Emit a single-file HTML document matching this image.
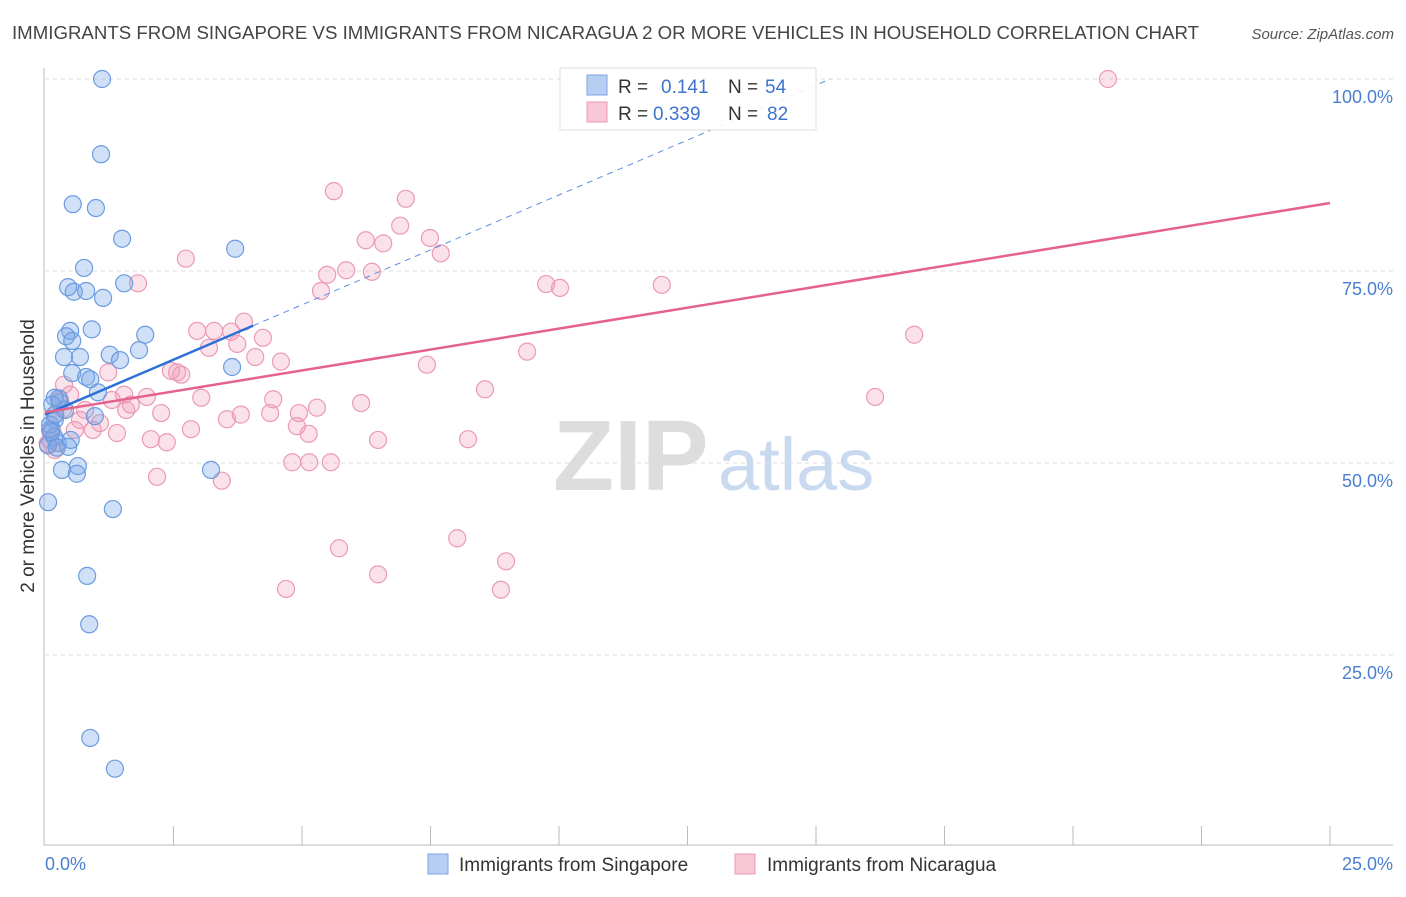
<!DOCTYPE html>
<html><head><meta charset="utf-8"><style>
body{margin:0;background:#fff;font-family:"Liberation Sans",sans-serif}
svg text{font-family:"Liberation Sans",sans-serif}
</style></head><body>
<svg id="chart" width="1406" height="892" xmlns="http://www.w3.org/2000/svg">
<text x="12" y="39" font-size="18.6" fill="#444" textLength="1187" lengthAdjust="spacingAndGlyphs">IMMIGRANTS FROM SINGAPORE VS IMMIGRANTS FROM NICARAGUA 2 OR MORE VEHICLES IN HOUSEHOLD CORRELATION CHART</text>
<text x="1394" y="39" font-size="15" fill="#555" font-style="italic" text-anchor="end">Source: ZipAtlas.com</text>
<g>
<text x="553" y="490" font-size="100" fill="#ddd" font-family="Liberation Serif" font-weight="bold">ZIP</text>
<text x="718" y="490" font-size="74" fill="#c9daf0">atlas</text>
</g>
<g id="grid"></g>
<line x1="44" y1="68" x2="44" y2="845" stroke="#bbb"/>
<line x1="44" y1="845" x2="1393" y2="845" stroke="#bbb"/>
<g id="ticks"></g>
<text transform="translate(34,456) rotate(-90)" font-size="19" fill="#333" text-anchor="middle">2 or more Vehicles in Household</text>
<text x="45" y="870" font-size="18" fill="#4a7fd0">0.0%</text>
<text x="1393" y="870" font-size="18" fill="#4a7fd0" text-anchor="end">25.0%</text>
<g id="points"></g>
<g id="lines"></g>
<g>
<rect x="560" y="68" width="256" height="62" fill="#fff" fill-opacity="0.9" stroke="#ddd"/>
<rect x="587" y="75" width="20" height="20" fill="#b7cff2" stroke="#7ba4e3"/>
<rect x="587" y="102" width="20" height="20" fill="#f7c7d6" stroke="#ec9ab5"/>
<text x="618" y="93" font-size="19" fill="#333">R = </text><text x="661" y="93" font-size="19" fill="#3b73cf">0.141</text>
<text x="728" y="93" font-size="19" fill="#333">N = </text><text x="765" y="93" font-size="19" fill="#3b73cf">54</text>
<text x="618" y="120" font-size="19" fill="#333">R = </text><text x="653" y="120" font-size="19" fill="#3b73cf">0.339</text>
<text x="728" y="120" font-size="19" fill="#333">N = </text><text x="767" y="120" font-size="19" fill="#3b73cf">82</text>
</g>
<g>
<rect x="428" y="854" width="20" height="20" fill="#b7cff2" stroke="#7ba4e3"/>
<text x="459" y="871" font-size="19" fill="#333">Immigrants from Singapore</text>
<rect x="735" y="854" width="20" height="20" fill="#f7c7d6" stroke="#ec9ab5"/>
<text x="767" y="871" font-size="19" fill="#333">Immigrants from Nicaragua</text>
</g>
</svg>
<script>
const yTicks=[100,75,50,25];
const yTickLabels=["100.0%","75.0%","50.0%","25.0%"];
const sgX=[1.11,1.09,0.54,0.99,1.50,3.70,0.76,0.45,0.56,0.80,1.13,1.54,0.91,0.49,0.41,0.53,0.37,0.68,1.95,1.83,1.26,1.46,3.64,0.53,0.80,0.88,1.03,0.19,0.29,0.14,0.39,0.97,0.19,0.10,0.18,0.25,0.45,0.06,0.64,0.33,0.62,3.23,0.06,1.32,0.82,0.86,0.88,1.36,0.10,0.20,0.12,0.27,0.23,0.50];
const sgY=[100,90.2,83.7,83.2,79.2,77.9,75.4,72.9,72.3,72.4,71.5,73.4,67.4,67.2,66.5,65.9,63.8,63.8,66.7,64.7,64.1,63.4,62.5,61.7,61.2,60.9,59.2,58.5,57.9,57.6,56.9,56.1,55.6,54.3,53.4,52.6,52.1,52.3,49.6,49.1,48.6,49.1,44.9,44.0,35.3,29.0,14.2,10.2,55.0,56.3,54.0,58.4,52.0,53.0];
const niX=[20.68,5.62,7.02,6.24,6.91,6.58,7.49,7.70,2.74,1.81,5.49,5.86,6.36,5.37,9.75,10.02,12.0,16.91,3.87,2.96,3.29,3.62,4.24,3.19,3.74,4.09,4.59,9.38,7.43,2.45,2.57,2.65,1.23,0.37,8.56,16.15,1.54,1.98,3.04,4.44,6.15,1.30,1.67,1.58,2.26,3.54,3.81,4.38,4.94,5.29,4.90,5.13,2.84,2.06,2.37,1.40,0.93,6.48,8.23,4.81,5.14,5.56,2.18,3.44,8.02,5.72,8.97,6.48,4.69,8.87,0.29,0.68,1.07,0.49,0.19,0.10,0.19,0.78,0.58,0.14,0.05,0.35];
const niY=[100,85.4,84.4,79.0,80.9,78.6,79.3,77.3,76.6,73.4,74.5,75.1,74.9,72.4,73.3,72.8,73.2,66.7,68.4,67.2,67.2,67.1,66.3,65.0,65.5,63.8,63.2,64.5,62.8,62.0,61.8,61.5,61.8,60.2,59.6,58.6,58.9,58.6,58.5,58.3,57.8,58.2,57.6,56.9,56.5,55.7,56.3,56.5,56.5,57.2,54.8,53.8,54.4,53.1,52.7,53.9,54.3,53.0,53.1,50.1,50.1,50.1,48.2,47.7,40.2,38.9,37.2,35.5,33.6,33.5,58.2,55.6,55.2,58.9,56.3,53.0,51.7,56.9,54.3,54.3,52.5,57.0];
const sgTrend=[56.3,2.86];   // intercept, slope
const niTrend=[56.6,1.09];
const X0=45,X1=1330,Y0=847,PY=7.68;
const sx=v=>X0+(v/25)*(X1-X0);
const sy=v=>Y0-v*PY;
const NS="http://www.w3.org/2000/svg";
function mk(t,a,p){const e=document.createElementNS(NS,t);for(const k in a)e.setAttribute(k,a[k]);p.appendChild(e);return e;}
const grid=document.getElementById('grid');
yTicks.forEach((t,i)=>{
 const l=mk('line',{x1:45,x2:1393,y1:sy(t),y2:sy(t),stroke:'#ddd','stroke-dasharray':'4,4'},grid);
 
 
 const tx=mk('text',{x:1393,y:sy(t)+24,'font-size':18,fill:'#4a7fd0','text-anchor':'end'},grid);
 tx.textContent=yTickLabels[i];
 
 
});
const ticks=document.getElementById('ticks');
for(let i=1;i<=10;i++){
 const x=45+i*128.5;
 const t=mk('line',{x1:x,x2:x,y1:826,y2:845,stroke:'#bbb'},ticks);
 
 
}
const pts=document.getElementById('points');
niX.forEach((x,i)=>{
 const c=mk('circle',{cx:sx(x),cy:sy(niY[i]),r:8.5,fill:'rgba(240,150,180,0.28)',stroke:'#eb9ab4','stroke-width':1.2},pts);
 
 
});
sgX.forEach((x,i)=>{
 const c=mk('circle',{cx:sx(x),cy:sy(sgY[i]),r:8.5,fill:'rgba(120,165,230,0.35)',stroke:'#6b9be0','stroke-width':1.2},pts);
 
 
});
const ln=document.getElementById('lines');
const sgEnd=(100-sgTrend[0])/sgTrend[1];
const d1=mk('line',{x1:sx(4.05),y1:sy(sgTrend[0]+sgTrend[1]*4.05),x2:sx(sgEnd),y2:sy(100),stroke:'#5a8ee0','stroke-width':1,'stroke-dasharray':'6,5'},ln);


const l1=mk('line',{x1:sx(0),y1:sy(sgTrend[0]),x2:sx(4.05),y2:sy(sgTrend[0]+sgTrend[1]*4.05),stroke:'#2c6fd8','stroke-width':2.5},ln);


const l2=mk('line',{x1:sx(0),y1:sy(niTrend[0]),x2:sx(25),y2:sy(niTrend[0]+niTrend[1]*25),stroke:'#e5628e','stroke-width':2.5},ln);


</script>
</body></html>
